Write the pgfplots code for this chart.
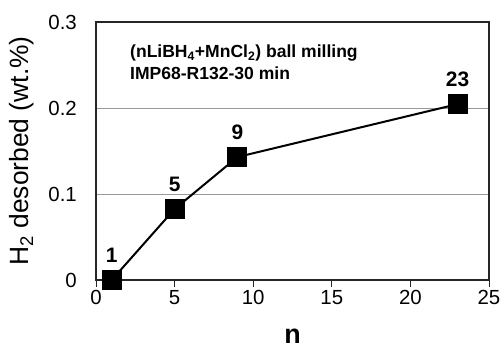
\documentclass[border=0pt]{standalone}
\usepackage{pgfplots}
\pgfplotsset{compat=1.18}
\usetikzlibrary{calc}
\usepackage{fontspec}
\setmainfont{Liberation Sans}
\begin{document}
\begin{tikzpicture}
\begin{axis}[
  scale only axis,
  width=393bp, height=258bp,
  xmin=0, xmax=25, ymin=0, ymax=0.3,
  xtick={0,5,10,15,20,25},
  ytick={0,0.1,0.2,0.3},
  yticklabels={0,0.1,0.2,0.3},
  /pgf/number format/assume math mode=true,
  ticklabel style={font=\fontsize{20.5}{24}\selectfont},
  axis line style={black!85, line width=1.2pt},
  ymajorgrids, grid style={gray!80, line width=0.6pt},
  xtick pos=bottom, ytick pos=left,
  x tick style={black!85, line width=1pt},
  xtick align=outside, major tick length=7bp,
  y tick style={draw=none},
  yticklabel style={anchor=east, inner sep=0pt, xshift=-19bp},
  xticklabel style={anchor=north, inner sep=0pt, yshift=-3bp},
  xlabel={\textbf{n}},
  ylabel={H\textsubscript{2} desorbed (wt.\%)},
  xlabel style={font=\fontsize{27}{30}\selectfont, at={($(axis description cs:0.5,0)+(0,-63bp)$)}, anchor=base, inner sep=0pt},
  ylabel style={font=\fontsize{26.5}{30}\selectfont, at={($(axis description cs:0,0.5)+(-74bp,0bp)$)}, anchor=center, inner sep=0pt},
  clip=false,
]
\addplot[black, line width=2bp, mark=square*, mark size=9bp,
  mark options={solid, fill=black},
  nodes near coords, point meta=explicit symbolic,
  every node near coord/.append style={font=\fontsize{21}{24}\selectfont\bfseries, anchor=base, inner sep=0pt, yshift=18bp}]
  table[meta=lab] {
x y lab
1 0 1
5 0.0825 5
9 0.143 9
23 0.2045 23
};
\node[anchor=north west, align=left, font=\fontsize{17.6}{22}\selectfont\bfseries, inner sep=0pt]
  at ($(rel axis cs:0,1)+(34bp,-23bp)$) {(nLiBH\textsubscript{4}+MnCl\textsubscript{2}) ball milling\\IMP68-R132-30 min};
\path ($(rel axis cs:0,0)+(-96bp,-69bp)$) rectangle ($(rel axis cs:1,1)+(13bp,22bp)$);
\end{axis}
\end{tikzpicture}
\end{document}
